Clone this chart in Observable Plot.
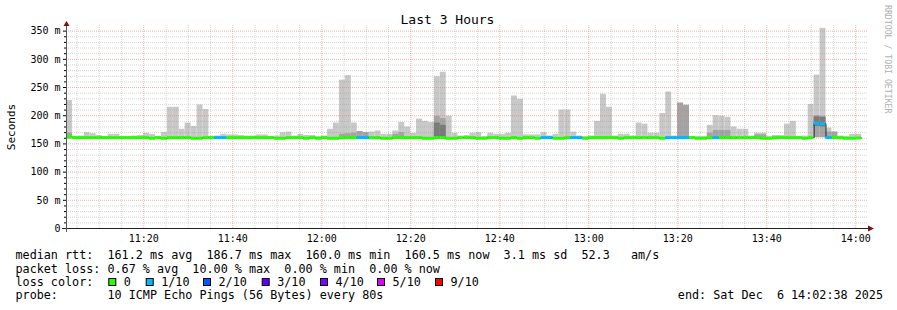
<!DOCTYPE html>
<html><head><meta charset="utf-8">
<script src="https://cdn.jsdelivr.net/npm/d3@7"></script>
<script src="https://cdn.jsdelivr.net/npm/@observablehq/plot@0.6"></script>
<style>
body{margin:0;background:#fff;}
#wrap{position:relative;width:897px;height:310px;overflow:hidden;}
svg text{white-space:pre;}
</style></head><body><div id="wrap"></div>
<script>
// ---- data ----
const startTime = new Date(2025, 11, 6, 11, 2, 38);
const endTime = new Date(2025, 11, 6, 14, 2, 38);
const stepSeconds = 80;

const medianMs = [
 162.5,161.2,161.2,161.2,161.2,161.2,161.2,161.2,161.2,161.2,
 161.2,161.2,161.2,161.2,160.0,161.2,160.0,161.2,161.2,161.2,
 161.2,160.0,160.0,161.2,161.2,161.2,161.2,161.2,161.2,161.2,
 161.2,161.2,161.2,161.2,161.2,160.0,160.0,161.2,161.2,161.2,
 160.0,161.2,160.0,161.2,160.0,160.0,161.2,161.2,161.2,161.2,
 161.2,161.2,161.2,160.0,160.0,161.2,161.2,161.2,161.2,161.2,
 160.0,160.0,161.2,161.2,160.0,160.0,161.2,161.2,161.2,160.0,
 160.0,161.2,161.2,160.0,160.0,161.2,160.0,161.2,161.2,160.0,
 161.2,161.2,160.0,160.0,161.2,161.2,161.2,160.0,161.2,161.2,
 161.2,161.2,161.2,160.0,161.2,161.2,161.2,161.2,161.2,161.2,
 160.0,161.2,161.2,161.2,161.2,161.2,160.0,160.0,161.2,161.2,
 161.2,161.2,161.2,161.2,161.2,161.2,161.2,160.0,160.0,161.2,
 161.2,161.2,161.2,161.2,160.0,161.2,186.7,185.8,161.2,161.2,
 161.2,160.0,160.0,160.5
];
const lossTenths = [
 0,0,0,0,0,0,0,0,0,0,
 0,0,0,0,0,0,0,0,0,0,
 0,0,0,0,0,1,1,0,0,0,
 0,0,0,0,0,0,0,0,0,0,
 0,0,0,0,0,0,0,0,0,1,
 1,0,0,0,0,0,0,0,0,0,
 0,0,0,0,0,0,0,0,0,0,
 0,0,0,0,0,0,0,0,0,0,
 1,1,0,0,0,1,1,0,0,0,
 0,0,0,0,0,0,0,0,0,0,
 0,1,1,1,1,0,0,0,0,1,
 0,0,0,0,0,0,0,0,0,0,
 0,0,0,0,0,0,1,1,1,0,
 0,0,0,0
];
const smokeMinMs = [
 159,159,159,159,159,159,159,159,159,159,
 159,159,159,159,159,159,159,159,157.5,157.5,
 159,159,159,159,159,159,159,159,159,159,
 159,159,159,159,159,159,159,159,159,159,
 159,159,159,159,159,159,159,159,159,159,
 159,159,159,157.5,157.5,159,159,158,158,159,
 159,159,159,159,159,159,159,159,159,159,
 159,159,159,159,159,159,159,159,159,159,
 159,159,159,159,159,159,159,159,159,159,
 159,159,159,159,159,159,159,158,158,159,
 159,159,159,159,159,159,159,159,159,159,
 159,159,159,159,159,159,159,159,159,159,
 159,159,159,159,159,159,161,161,159,159,
 159,159,159,159
];
const smokeMaxMs = [
 227,163,164,170,168,165,163,167,167,163,
 163,164,165,169,167,163,170,215,215,176,
 187,181,219,211,163,164,167,166,166,165,
 164,164,166,166,163,164,170,171,164,167,
 165,165,163,164,176,187,263,271,187,172,
 170,171,173,167,167,173,188,180,169,194,
 190,188,269,277,199,169,164,165,169,170,
 163,169,167,167,169,235,229,166,166,166,
 170,164,167,210,210,171,164,163,164,190,
 238,215,164,167,167,164,187,185,169,169,
 204,242,164,223,219,163,163,163,183,200,
 199,197,180,176,176,164,169,169,163,165,
 165,185,190,163,164,220,272,355,178,171,
 164,163,167,167
];
const midSteps = [0,46,47,48,49,50,55,56,62,63,103,104,108,109,110,111,116,117,126,127,128,129];
const midTopMs = [169,167,168,169,172,170,167,170,199,195,222,218,169,174,174,174,166,166,200,199,171,171];
const darkSteps = [62,63,126,127];
const darkLowMs = [160,160,181,180];
const darkTopMs = [187,183,198,197];

const yTickValues = [0,50,100,150,200,250,300,350];
const xTickLabels = ["11:20","11:40","12:00","12:20","12:40","13:00","13:20","13:40","14:00"];
const lossLevels = [0,1,2,3,4,5,9];
const lossColors = ["#26ff00","#00b8ff","#0059ff","#5e00ff","#7e00ff","#dd00ff","#ff0000"];
const lossLabels = ["0","1/10","2/10","3/10","4/10","5/10","9/10"];

const legendLines = [
 "median rtt:  161.2 ms avg  186.7 ms max  160.0 ms min  160.5 ms now  3.1 ms sd  52.3   am/s",
 "packet loss: 0.67 % avg  10.00 % max  0.00 % min  0.00 % now",
 "loss color:",
 "probe:       10 ICMP Echo Pings (56 Bytes) every 80s"
];
const endLabel = "end: Sat Dec  6 14:02:38 2025";

// ---- derived tables ----
const stepMs = stepSeconds * 1000;
const tAt = i => new Date(+startTime + i * stepMs);
const rows = medianMs.map((m, i) => ({
  t0: tAt(i), t1: tAt(i + 1), median: m, loss: lossTenths[i],
  lo: smokeMinMs[i], hi: smokeMaxMs[i]
}));
const midRows = midSteps.map((s, k) => ({t0: tAt(s), t1: tAt(s + 1), lo: smokeMinMs[s], hi: midTopMs[k]}));
const darkRows = darkSteps.map((s, k) => ({t0: tAt(s), t1: tAt(s + 1), lo: darkLowMs[k], hi: darkTopMs[k]}));
const lineRows = rows.map(r => ({t: r.t0, median: r.median}))
  .concat([{t: rows[rows.length - 1].t1, median: rows[rows.length - 1].median}]);

const xTicks = xTickLabels.map(s => { const [h, m] = s.split(":").map(Number); return new Date(2025, 11, 6, h, m); });
const fiveMin = d3.timeMinute.every(5).range(startTime, endTime);
const majorX = fiveMin.filter(d => d.getMinutes() % 20 === 0);
const minorX = fiveMin.filter(d => d.getMinutes() % 20 !== 0);
const tenMs = d3.range(10, 360, 10);
const majorY = tenMs.filter(v => v % 50 === 0);
const minorY = tenMs.filter(v => v % 50 !== 0);

const FONT = "'DejaVu Sans Mono', monospace";

function axesDecor(index, scales, values, dim) {
  const g = d3.create("svg:g");
  const x0 = dim.marginLeft, x1 = dim.width - dim.marginRight;
  const y0 = dim.height - dim.marginBottom, yT = dim.marginTop;
  g.append("line").attr("x1", x0 - 4).attr("x2", x1 + 2).attr("y1", y0 + 0.5).attr("y2", y0 + 0.5)
    .attr("stroke", "#222");
  g.append("line").attr("x1", x0 + 0.5).attr("x2", x0 + 0.5).attr("y1", y0 + 4).attr("y2", yT - 1)
    .attr("stroke", "#555");
  g.append("path").attr("fill", "#7f1010")
    .attr("d", `M${x1 + 1},${y0 - 2.5}L${x1 + 7},${y0 + 0.5}L${x1 + 1},${y0 + 3.5}Z`);
  g.append("path").attr("fill", "#7f1010")
    .attr("d", `M${x0 - 2.5},${yT + 1}L${x0 + 0.5},${yT - 4}L${x0 + 3.5},${yT + 1}Z`);
  return g.node();
}

const marks = [
  Plot.rectY(rows, {x1: "t0", x2: "t1", y1: "lo", y2: "hi", fill: "#c8c8c8"}),
  Plot.rectY(midRows, {x1: "t0", x2: "t1", y1: "lo", y2: "hi", fill: "#a4a4a4"}),
  Plot.rectY(darkRows, {x1: "t0", x2: "t1", y1: "lo", y2: "hi", fill: "#7a7a7a"}),
  Plot.ruleY(minorY, {stroke: "rgba(140,140,140,0.35)", strokeDasharray: "1,1"}),
  Plot.ruleX(minorX, {stroke: "rgba(140,140,140,0.35)", strokeDasharray: "1,1"}),
  Plot.ruleY(majorY, {stroke: "rgba(240,110,110,0.55)", strokeDasharray: "1,1"}),
  Plot.ruleX(majorX, {stroke: "rgba(240,110,110,0.55)", strokeDasharray: "1,1"}),
  Plot.line(lineRows, {x: "t", y: "median", curve: "step-after", stroke: "#202020", strokeWidth: 1})
];
lossLevels.forEach((lv, k) => {
  marks.push(Plot.ruleY(rows.filter(r => r.loss === lv), {y: "median", x1: "t0", x2: "t1", stroke: lossColors[k], strokeWidth: 3}));
});
marks.push(
  Plot.axisY({ticks: yTickValues, tickFormat: d => d === 0 ? "0" : `${d} m`, tickSize: 3, tickPadding: 3, label: null, fill: "#000"}),
  Plot.axisY({ticks: minorY, tickFormat: () => "", tickSize: 2, tickPadding: 0, label: null}),
  Plot.axisX({ticks: xTicks, tickFormat: d3.timeFormat("%H:%M"), tickSize: 0, tickPadding: 6.5, label: null, fill: "#000"}),
  axesDecor
);

const svg = Plot.plot({
  width: 897, height: 310,
  marginLeft: 66, marginRight: 30, marginTop: 25, marginBottom: 82,
  style: {fontFamily: FONT, fontSize: "10px", background: "#fff", overflow: "visible"},
  x: {type: "time", domain: [startTime, endTime]},
  y: {domain: [0, 360]},
  marks
});

const s = d3.select(svg);
s.append("text").attr("x", 447.5).attr("y", 23.5).attr("text-anchor", "middle")
  .attr("font-family", FONT).attr("font-size", 13).attr("fill", "#000").text("Last 3 Hours");
s.append("text").attr("transform", "translate(14.5,127) rotate(-90)").attr("text-anchor", "middle")
  .attr("font-family", FONT).attr("font-size", 11).attr("fill", "#000").text("Seconds");
s.append("text").attr("transform", "translate(885,5) rotate(90)").attr("text-anchor", "start")
  .attr("font-family", FONT).attr("font-size", 8.2).attr("fill", "#b0b0b0").text("RRDTOOL / TOBI OETIKER");

const legend = s.append("g").attr("font-family", FONT).attr("font-size", 11.75).attr("fill", "#000")
  .attr("text-anchor", "start");
const baselines = [259.3, 272.6, 286, 299.3];
legendLines.forEach((line, i) => {
  legend.append("text").attr("x", 15.5).attr("y", baselines[i]).attr("text-anchor", "start")
    .attr("xml:space", "preserve").text(line);
});
legend.append("text").attr("x", 883).attr("y", baselines[3]).attr("text-anchor", "end")
  .attr("xml:space", "preserve").text(endLabel);
const boxX = [108.3, 145.7, 203, 261.7, 320, 377, 435];
lossLabels.forEach((lab, k) => {
  legend.append("rect").attr("x", boxX[k] + 0.5).attr("y", 278.5).attr("width", 7).attr("height", 7)
    .attr("fill", lossColors[k]).attr("stroke", "#000").attr("stroke-width", 1);
  legend.append("text").attr("x", boxX[k] + 15.5).attr("y", baselines[2]).attr("text-anchor", "start").text(lab);
});

document.getElementById("wrap").appendChild(svg);
</script>
</body></html>
